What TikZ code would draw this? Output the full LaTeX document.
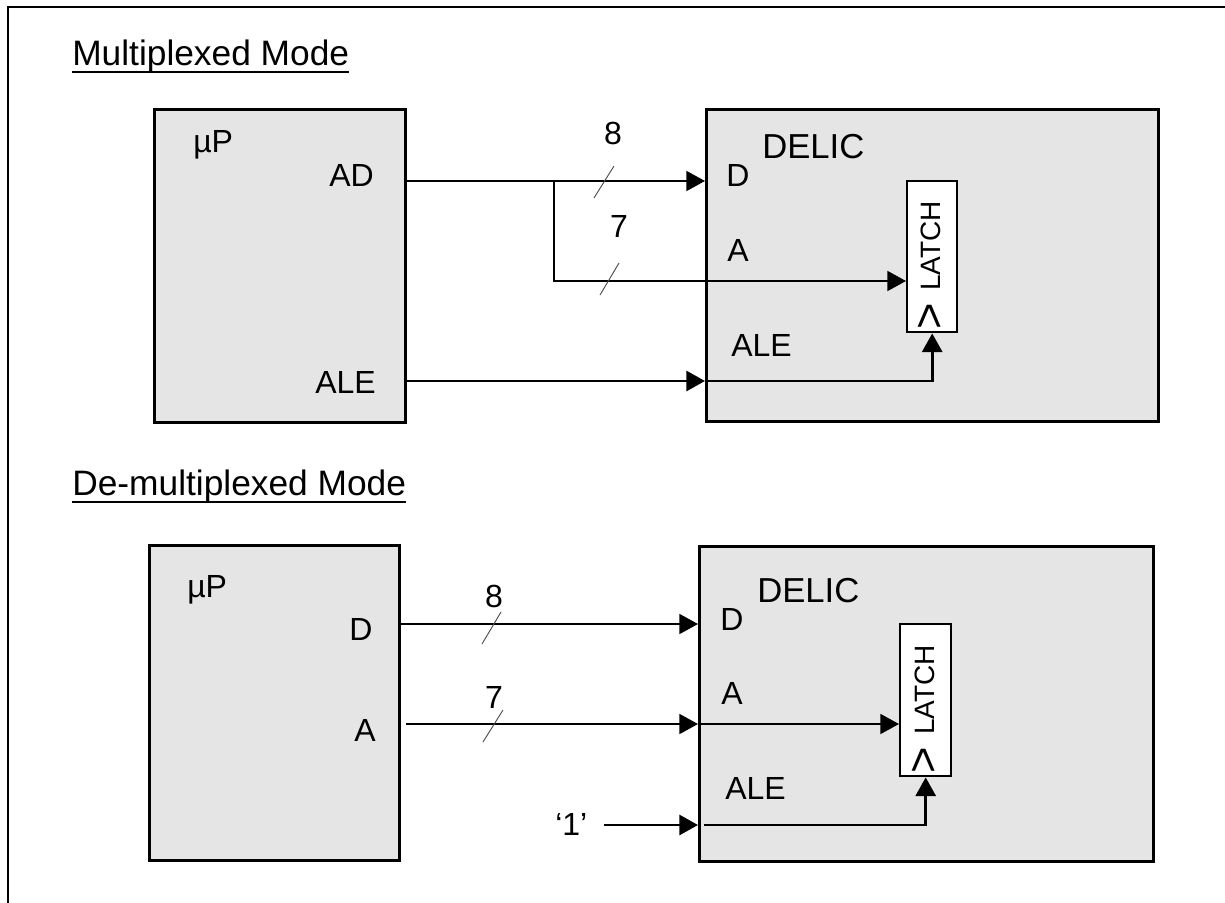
\documentclass[tikz,border=0pt]{standalone}
\usepackage{fontspec}
\setmainfont{Liberation Sans}
\usetikzlibrary{arrows.meta}
\definecolor{boxgray}{HTML}{E5E5E5}
\begin{document}
\begin{tikzpicture}[x=0.75pt,y=-0.75pt,
  blk/.style={draw,line width=2.4pt,fill=boxgray,anchor=north west,inner sep=0pt},
  latchbox/.style={draw,line width=1.8pt,fill=white,anchor=north west,inner sep=0pt,minimum width=37.5pt,minimum height=113.25pt},
  lbl/.style={font=\fontsize{24}{28}\selectfont,inner sep=0pt},
  big/.style={font=\fontsize{26}{31}\selectfont,inner sep=0pt},
  latchtxt/.style={font=\fontsize{21}{25}\selectfont,inner sep=0pt,rotate=90},
  clk/.style={font=\fontsize{34}{38}\selectfont,inner sep=0pt,rotate=90},
  ttl/.style={font=\fontsize{26.5}{31}\selectfont,inner sep=0pt,anchor=base west},
  sig/.style={line width=1.4pt},
  sigthick/.style={line width=2.2pt},
  tip/.style={-{Triangle[length=14pt,width=15pt]}},
  slash/.style={line width=0.7pt,draw=black!70},
]
\useasboundingbox (0,0) rectangle (1225,903);
\draw[line width=1.5pt] (8,903) -- (8,7) -- (1225,7);

% ---------- Multiplexed mode ----------
\node[ttl] (t1) at (72,65) {Multiplexed Mode};
\draw[line width=1.6pt] ([yshift=-5.25pt]t1.base west) -- ([yshift=-5.25pt]t1.base east);

\node[blk,minimum width=188.25pt,minimum height=234.75pt] (mp1) at (153,108) {};
\node[blk,minimum width=339pt,minimum height=234pt] (de1) at (705,108) {};
\node[latchbox] (la1) at (906,180) {};
\node[latchtxt] (la1t) at (931,246) {LATCH};
\node[clk] (la1c) at (931,316) {>};

\node[lbl,anchor=base west] (mp1n) at (193,152) {µP};
\node[lbl,anchor=base west] (mp1ad) at (329,186) {AD};
\node[lbl,anchor=base west] (mp1ale) at (315,393) {ALE};
\node[lbl,anchor=base] (n8a) at (613,144) {8};
\node[lbl,anchor=base] (n7a) at (619,237) {7};
\node[big,anchor=base west] (de1n) at (762,158) {DELIC};
\node[lbl,anchor=base west] (de1d) at (726,186) {D};
\node[lbl,anchor=base west] (de1a) at (727,261) {A};
\node[lbl,anchor=base west] (de1ale) at (731,356) {ALE};

\coordinate (yAD) at (0,181);
\coordinate (br1) at (554,181);
\coordinate (yA1) at (0,281);
\coordinate (yALE1) at (0,381);
\draw[sig,tip] (mp1.east |- yAD) -- (de1.west |- yAD);
\draw[sig,tip] (br1) |- (la1.west |- yA1);
\draw[sigthick,tip] (mp1.east |- yALE1) -- (de1.west |- yALE1);
\draw[sigthick,tip] (de1.west |- yALE1) -| (la1.south);
\draw[slash] (594,198) -- (614,166);
\draw[slash] (600,295) -- (619,263);

% ---------- De-multiplexed mode ----------
\node[ttl] (t2) at (72,495) {De-multiplexed Mode};
\draw[line width=1.6pt] ([yshift=-5.25pt]t2.base west) -- ([yshift=-5.25pt]t2.base east);

\node[blk,minimum width=187.5pt,minimum height=236.25pt] (mp2) at (148,544) {};
\node[blk,minimum width=340.5pt,minimum height=236.25pt] (de2) at (698,545) {};
\node[latchbox,minimum width=38.25pt,minimum height=114pt] (la2) at (899,623) {};
\node[latchtxt] (la2t) at (925,690) {LATCH};
\node[clk] (la2c) at (925,760) {>};

\node[lbl,anchor=base west] (mp2n) at (187,597) {µP};
\node[lbl,anchor=base west] (mp2d) at (349,640) {D};
\node[lbl,anchor=base west] (mp2a) at (354,741) {A};
\node[lbl,anchor=base] (n8b) at (494,607) {8};
\node[lbl,anchor=base] (n7b) at (494,708) {7};
\node[big,anchor=base west] (de2n) at (757,602) {DELIC};
\node[lbl,anchor=base west] (de2d) at (720,630) {D};
\node[lbl,anchor=base west] (de2a) at (721,704) {A};
\node[lbl,anchor=base west] (de2ale) at (725,799) {ALE};
\node[lbl,anchor=base west] (one) at (555,835) {‘1’};

\coordinate (yD2) at (0,624);
\coordinate (yA2) at (0,724);
\coordinate (y12) at (0,825);
\draw[sig,tip] (mp2.east |- yD2) -- (de2.west |- yD2);
\draw[sig,tip,shorten <=3.75pt] (mp2.east |- yA2) -- (de2.west |- yA2);
\draw[sig,tip] (de2.west |- yA2) -- (la2.west |- yA2);
\draw[sigthick,tip,shorten <=12pt] (one.east |- y12) -- (de2.west |- y12);
\draw[sigthick,tip] ([xshift=4.5pt]de2.west |- y12) -| (la2.south);
\draw[slash] (482,644) -- (501,612);
\draw[slash] (483,742) -- (503,710);
\end{tikzpicture}
\end{document}
